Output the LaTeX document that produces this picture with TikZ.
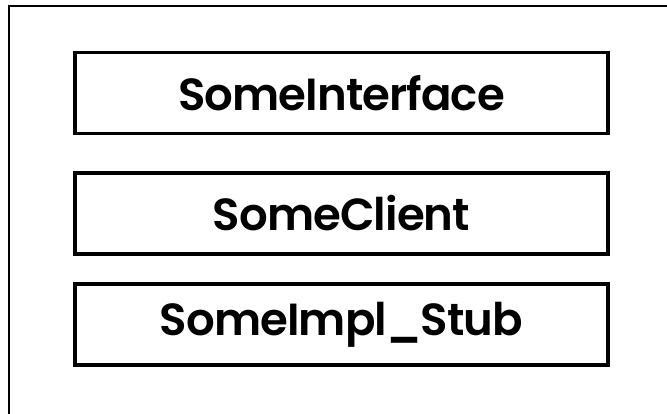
\documentclass[tikz,border=0pt]{standalone}
\usepackage{fontspec}
\setmainfont{Poppins}[BoldFont={Poppins SemiBold},LetterSpace=-2]
\tikzset{classbox/.style={draw,line width=3.5pt,minimum width=533pt,minimum height=81pt,inner sep=0pt,font=\fontsize{45}{48}\selectfont\bfseries}}

\begin{document}
\begin{tikzpicture}[x=1pt,y=-1pt]
        \useasboundingbox(0,0)rectangle(667,413);
        \clip(0,0)rectangle(667,413);
        \draw[line width=1.3pt](9,6)rectangle(700,450);
        \node[classbox](iface)at(341.5,92.75){SomeInterface};
        \node[classbox](client)at(341.5,213.5){SomeClient};
        \node[classbox](stub)at(341.5,324.5){SomeImpl\_Stub};
    \end{tikzpicture}
\end{document}
